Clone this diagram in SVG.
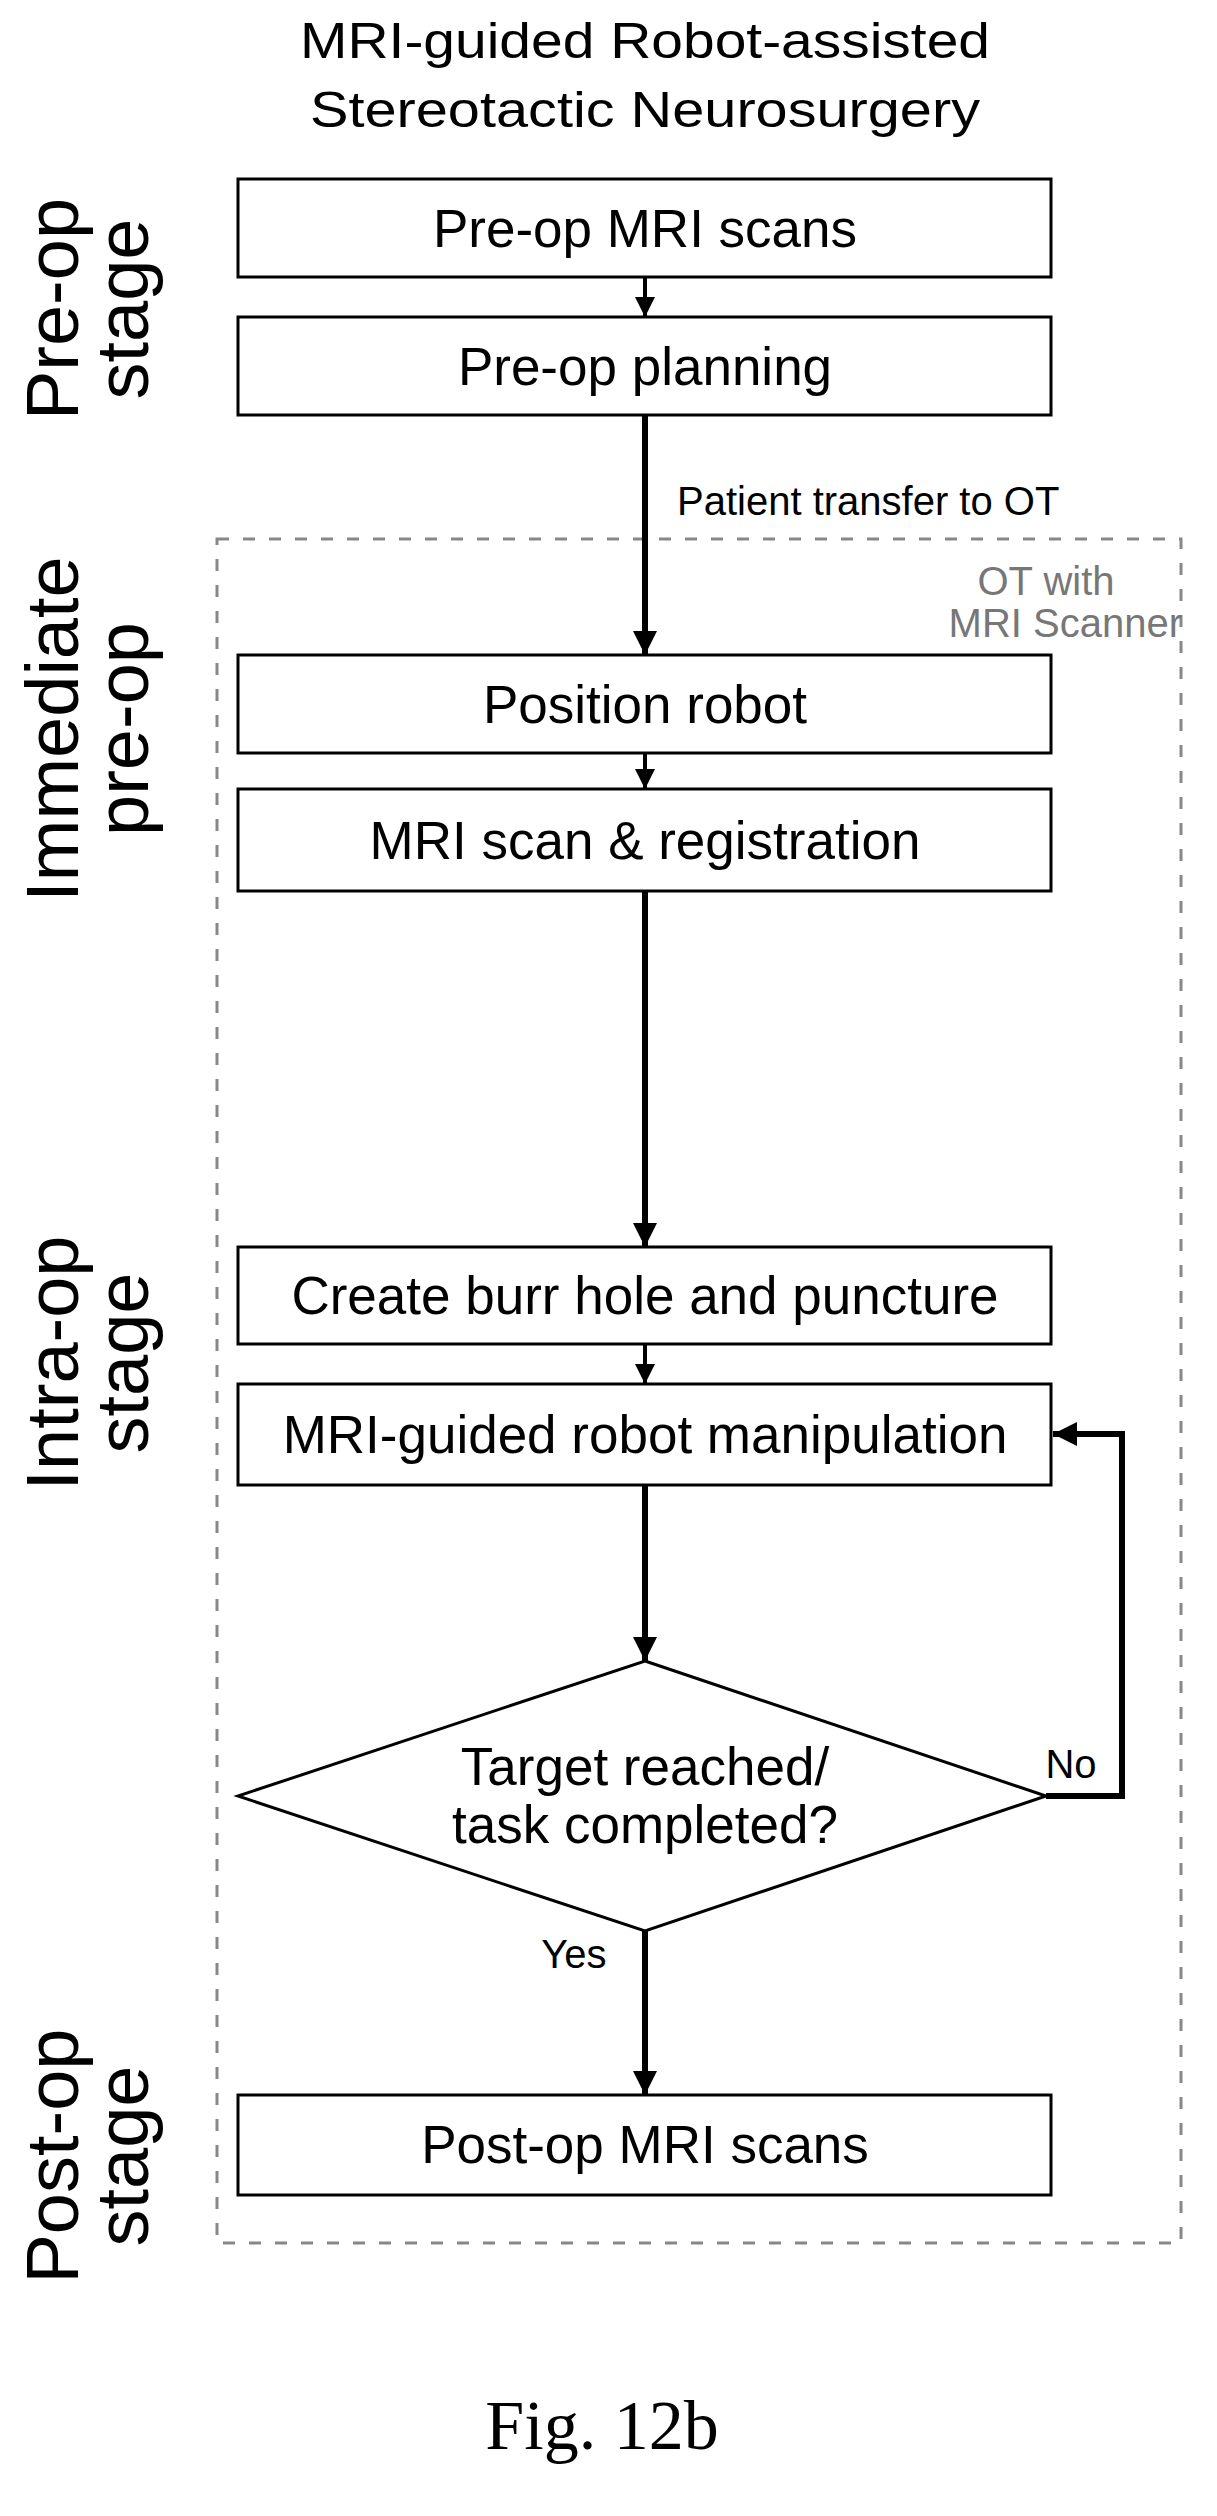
<svg xmlns="http://www.w3.org/2000/svg" width="1217" height="2516" viewBox="0 0 1217 2516">
<style>
text{font-family:"Liberation Sans",Arial,sans-serif;fill:#000}
.box{fill:#fff;stroke:#000;stroke-width:3}
.bt{font-size:53px;text-anchor:middle}
.side{font-size:74px;text-anchor:middle}
.ln{stroke:#000;stroke-width:6;fill:none}
.sl{stroke:#000;stroke-width:4;fill:none}
</style>
<defs>
<marker id="ah" viewBox="0 0 10 10" refX="10" refY="5" markerWidth="4" markerHeight="5" markerUnits="strokeWidth" orient="auto"><path d="M0,0L10,5L0,10z" fill="#000"/></marker>
<marker id="ahs" viewBox="0 0 10 10" refX="10" refY="5" markerWidth="5" markerHeight="5" markerUnits="strokeWidth" orient="auto"><path d="M0,0L10,5L0,10z" fill="#000"/></marker>
</defs>
<rect width="1217" height="2516" fill="#fff"/>
<text x="645" y="58" font-size="50" text-anchor="middle" textLength="690" lengthAdjust="spacingAndGlyphs">MRI-guided Robot-assisted</text>
<text x="645" y="127" font-size="50" text-anchor="middle" textLength="670" lengthAdjust="spacingAndGlyphs">Stereotactic Neurosurgery</text>
<rect x="217" y="539" width="964" height="1704" fill="none" stroke="#888" stroke-width="3" stroke-dasharray="12,14"/>
<text x="1046" y="595" font-size="40" text-anchor="middle" style="fill:#777">OT with</text>
<text x="1182" y="637" font-size="40" text-anchor="end" style="fill:#777">MRI Scanner</text>
<g id="side-labels">
<text class="side" transform="translate(78,309) rotate(-90)">Pre-op</text>
<text class="side" transform="translate(148,309) rotate(-90)">stage</text>
<text class="side" transform="translate(78,729) rotate(-90)">Immediate</text>
<text class="side" transform="translate(148,729) rotate(-90)">pre-op</text>
<text class="side" transform="translate(78,1363) rotate(-90)">Intra-op</text>
<text class="side" transform="translate(148,1363) rotate(-90)">stage</text>
<text class="side" transform="translate(78,2156) rotate(-90)">Post-op</text>
<text class="side" transform="translate(148,2156) rotate(-90)">stage</text>
</g>
<g id="connectors">
<line class="sl" x1="645" y1="277" x2="645" y2="317" marker-end="url(#ahs)"/>
<line class="ln" x1="645" y1="415" x2="645" y2="655" marker-end="url(#ah)"/>
<line class="sl" x1="645" y1="753" x2="645" y2="789" marker-end="url(#ahs)"/>
<line class="ln" x1="645" y1="891" x2="645" y2="1247" marker-end="url(#ah)"/>
<line class="sl" x1="645" y1="1344" x2="645" y2="1384" marker-end="url(#ahs)"/>
<line class="ln" x1="645" y1="1485" x2="645" y2="1661" marker-end="url(#ah)"/>
<line class="ln" x1="645" y1="1931" x2="645" y2="2095" marker-end="url(#ah)"/>
<polyline class="ln" points="1046,1796 1122,1796 1122,1434 1053,1434" marker-end="url(#ah)"/>
<text x="677" y="515" font-size="40">Patient transfer to OT</text>
<text x="574" y="1968" font-size="40" text-anchor="middle">Yes</text>
<text x="1071" y="1778" font-size="40" text-anchor="middle">No</text>
</g>
<g id="n1"><rect class="box" x="238" y="179" width="813" height="98"/><text class="bt" x="645" y="247">Pre-op MRI scans</text></g>
<g id="n2"><rect class="box" x="238" y="317" width="813" height="98"/><text class="bt" x="645" y="385">Pre-op planning</text></g>
<g id="n3"><rect class="box" x="238" y="655" width="813" height="98"/><text class="bt" x="645" y="723">Position robot</text></g>
<g id="n4"><rect class="box" x="238" y="789" width="813" height="102"/><text class="bt" x="645" y="859">MRI scan &amp; registration</text></g>
<g id="n5"><rect class="box" x="238" y="1247" width="813" height="97"/><text class="bt" x="645" y="1314">Create burr hole and puncture</text></g>
<g id="n6"><rect class="box" x="238" y="1384" width="813" height="101"/><text class="bt" x="645" y="1453">MRI-guided robot manipulation</text></g>
<g id="n7"><polygon points="645,1661 1046,1796 645,1931 238,1796" fill="#fff" stroke="#000" stroke-width="3"/><text class="bt" x="645" y="1785">Target reached/</text><text class="bt" x="645" y="1843">task completed?</text></g>
<g id="n8"><rect class="box" x="238" y="2095" width="813" height="100"/><text class="bt" x="645" y="2163">Post-op MRI scans</text></g>
<text x="602" y="2449" font-size="70" text-anchor="middle" style="font-family:'Liberation Serif',serif">Fig. 12b</text>
</svg>
